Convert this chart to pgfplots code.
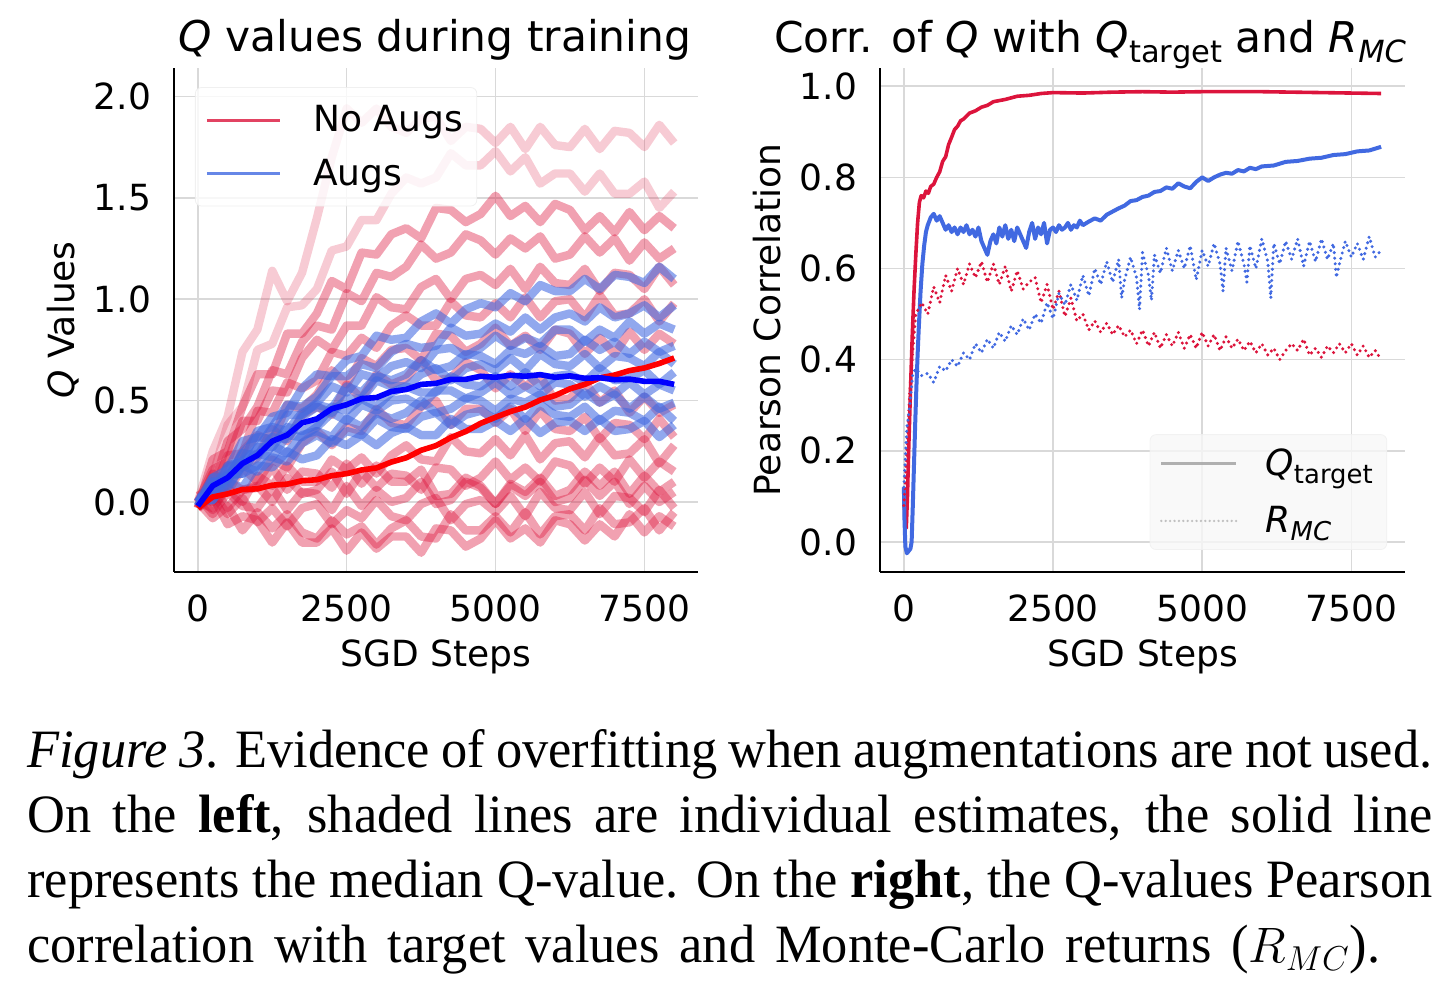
\documentclass[border=0pt]{standalone}
\usepackage{fontspec}
\setmainfont{DejaVu Sans}
\newfontfamily\capfont{Liberation Serif}[FakeStretch=0.97]
\usepackage{graphicx}
\usepackage{pgfplots}
\usepackage{pgfplotstable}
\pgfplotsset{compat=1.18}
\definecolor{crimson}{RGB}{220,20,60}
\definecolor{royalblue}{RGB}{65,105,225}
\newcommand\tickfont{\fontsize{18}{21}\selectfont}
\newcommand\titlefont{\fontsize{21.2}{25}\selectfont}
\newcommand\sub[1]{\raisebox{-0.22em}{\scalebox{0.72}{#1}}}

\pgfplotstableread{
x r1 r2 r3 r4 r5 r6 r7 r8 r9 r10 r11 r12 r13 r14 r15 r16 b1 b2 b3 b4 b5 b6 b7 b8 b9 b10 rm bm
0 0 0 -0.03 0.03 0 0 -0.03 0.03 0 0 -0.03 0.03 0 0 -0.03 0.03 0 0 -0.02 0.02 0 0 -0.02 0.02 0 0 -0.03 -0.02
250 0.25 0.13 0.21 0.07 0.16 0.05 0.14 0.00 0.09 -0.03 0.07 -0.06 0.04 -0.08 0.03 -0.04 0.12 0.05 0.12 0.03 0.10 0.03 0.10 0.01 0.08 0.01 0.025 0.08
500 0.42 0.38 0.25 0.30 0.20 0.23 0.10 0.18 0.05 0.07 -0.03 0.05 -0.06 -0.02 -0.11 0.10 0.16 0.18 0.12 0.17 0.11 0.14 0.08 0.13 0.07 0.10 0.04 0.12
750 0.74 0.47 0.47 0.36 0.40 0.24 0.25 0.17 0.17 0.00 0.06 -0.02 0.02 -0.14 -0.07 0.06 0.30 0.20 0.24 0.20 0.24 0.14 0.18 0.14 0.18 0.07 0.062 0.19
1000 0.85 0.75 0.63 0.47 0.40 0.45 0.33 0.22 0.10 0.13 0.08 -0.03 -0.10 -0.05 -0.09 0.07 0.32 0.35 0.32 0.26 0.23 0.27 0.24 0.18 0.15 0.18 0.065 0.23
1250 1.14 0.78 0.63 0.65 0.55 0.44 0.30 0.36 0.21 0.08 0.00 0.07 -0.03 -0.13 -0.20 0.17 0.42 0.37 0.31 0.37 0.32 0.27 0.22 0.28 0.22 0.17 0.083 0.30
1500 0.99 0.96 0.83 0.63 0.54 0.59 0.48 0.30 0.17 0.18 0.12 -0.04 -0.12 -0.06 -0.10 0.06 0.44 0.48 0.43 0.35 0.31 0.37 0.33 0.24 0.20 0.25 0.088 0.33
1750 1.13 0.97 0.83 0.79 0.71 0.56 0.46 0.43 0.29 0.10 0.04 0.05 -0.03 -0.15 -0.20 0.15 0.56 0.47 0.43 0.44 0.42 0.35 0.32 0.33 0.29 0.21 0.105 0.39
2000 1.40 1.05 0.93 0.87 0.80 0.60 0.53 0.47 0.35 0.10 0.06 0.04 -0.01 -0.18 -0.20 0.14 0.63 0.52 0.49 0.48 0.47 0.38 0.37 0.35 0.33 0.23 0.11 0.41
2250 1.70 1.24 1.09 0.85 0.75 0.74 0.65 0.43 0.28 0.21 0.15 -0.04 -0.11 -0.09 -0.13 0.07 0.62 0.62 0.57 0.46 0.44 0.47 0.44 0.32 0.29 0.31 0.13 0.46
2500 1.94 1.26 1.05 1.03 0.87 0.72 0.58 0.58 0.37 0.16 0.04 0.08 -0.04 -0.16 -0.24 0.19 0.70 0.62 0.54 0.57 0.51 0.45 0.40 0.41 0.35 0.28 0.14 0.48
2750 1.87 1.39 1.23 0.99 0.87 0.81 0.71 0.51 0.35 0.22 0.15 -0.02 -0.08 -0.12 -0.15 0.09 0.72 0.68 0.63 0.54 0.51 0.51 0.48 0.37 0.33 0.33 0.158 0.51
3000 1.94 1.39 1.22 1.13 1.01 0.76 0.67 0.63 0.46 0.14 0.07 0.06 0.01 -0.21 -0.23 0.18 0.82 0.66 0.61 0.62 0.60 0.47 0.45 0.44 0.41 0.28 0.168 0.515
3250 1.85 1.52 1.32 1.11 0.96 0.87 0.75 0.58 0.39 0.23 0.14 0.00 -0.07 -0.13 -0.17 0.10 0.80 0.74 0.67 0.60 0.57 0.54 0.50 0.41 0.37 0.34 0.197 0.545
3500 1.82 1.60 1.35 1.16 0.95 0.92 0.76 0.61 0.38 0.28 0.13 0.02 -0.09 -0.09 -0.17 0.10 0.81 0.78 0.69 0.63 0.57 0.57 0.51 0.44 0.36 0.37 0.218 0.555
3750 1.89 1.57 1.30 1.27 1.06 0.87 0.70 0.70 0.47 0.21 0.06 0.10 -0.01 -0.17 -0.25 0.16 0.89 0.76 0.66 0.70 0.63 0.54 0.47 0.50 0.42 0.33 0.255 0.58
4000 1.90 1.60 1.45 1.20 1.10 0.87 0.83 0.60 0.50 0.20 0.17 -0.01 0.02 -0.18 -0.13 0.03 0.93 0.77 0.75 0.65 0.66 0.54 0.55 0.44 0.44 0.33 0.278 0.585
4250 1.78 1.72 1.44 1.23 1.00 0.99 0.82 0.61 0.38 0.32 0.16 0.01 -0.09 -0.06 -0.14 0.04 0.88 0.86 0.76 0.67 0.60 0.62 0.55 0.46 0.38 0.41 0.318 0.605
4500 1.85 1.66 1.38 1.32 1.10 0.92 0.74 0.69 0.46 0.25 0.08 0.10 -0.01 -0.14 -0.22 0.12 0.95 0.82 0.72 0.73 0.66 0.58 0.51 0.51 0.43 0.36 0.348 0.605
4750 1.84 1.66 1.42 1.29 1.12 0.91 0.78 0.65 0.46 0.24 0.12 0.07 0.01 -0.14 -0.18 0.08 0.98 0.83 0.76 0.72 0.68 0.57 0.54 0.50 0.45 0.36 0.388 0.62
5000 1.77 1.73 1.51 1.22 1.07 0.98 0.86 0.56 0.39 0.31 0.20 -0.01 -0.05 -0.07 -0.09 -0.01 0.96 0.88 0.82 0.68 0.65 0.62 0.59 0.45 0.41 0.40 0.418 0.615
5250 1.85 1.63 1.41 1.30 1.15 0.91 0.77 0.63 0.46 0.23 0.11 0.08 0.03 -0.15 -0.18 0.09 1.03 0.84 0.77 0.75 0.71 0.57 0.53 0.51 0.47 0.35 0.446 0.625
5500 1.74 1.70 1.46 1.25 1.05 1.01 0.82 0.57 0.35 0.33 0.17 0.03 -0.07 -0.05 -0.13 0.05 0.99 0.91 0.81 0.73 0.65 0.64 0.57 0.49 0.41 0.41 0.468 0.62
5750 1.85 1.57 1.38 1.31 1.16 0.91 0.75 0.62 0.45 0.21 0.10 0.10 0.05 -0.16 -0.20 0.12 1.07 0.85 0.78 0.77 0.73 0.57 0.53 0.53 0.48 0.34 0.503 0.628
6000 1.76 1.62 1.47 1.20 1.08 0.99 0.85 0.50 0.36 0.29 0.20 0.00 -0.03 -0.07 -0.09 0.03 1.04 0.91 0.85 0.72 0.68 0.62 0.59 0.47 0.43 0.39 0.525 0.615
6250 1.75 1.62 1.44 1.22 1.07 1.00 0.83 0.51 0.35 0.30 0.18 0.02 -0.04 -0.06 -0.11 0.06 1.04 0.93 0.85 0.73 0.67 0.63 0.58 0.48 0.42 0.40 0.558 0.622
6500 1.84 1.53 1.34 1.31 1.15 0.91 0.73 0.59 0.42 0.22 0.09 0.11 0.05 -0.14 -0.19 0.15 1.10 0.89 0.79 0.80 0.73 0.59 0.52 0.54 0.47 0.35 0.58 0.61
6750 1.74 1.62 1.41 1.23 1.04 1.02 0.81 0.49 0.31 0.32 0.17 0.03 -0.06 -0.03 -0.11 0.08 1.05 0.96 0.85 0.75 0.66 0.66 0.57 0.49 0.40 0.41 0.612 0.613
7000 1.83 1.52 1.33 1.30 1.13 0.92 0.73 0.55 0.39 0.23 0.10 0.10 0.03 -0.11 -0.17 0.15 1.12 0.91 0.81 0.79 0.72 0.60 0.53 0.53 0.45 0.35 0.626 0.603
7250 1.82 1.52 1.43 1.19 1.12 0.93 0.84 0.44 0.38 0.24 0.21 -0.01 0.02 -0.10 -0.06 0.04 1.11 0.93 0.89 0.73 0.71 0.61 0.59 0.46 0.44 0.36 0.648 0.606
7500 1.75 1.58 1.34 1.28 1.05 1.00 0.75 0.52 0.31 0.31 0.12 0.08 -0.05 -0.03 -0.15 0.13 1.08 0.97 0.83 0.79 0.67 0.65 0.53 0.52 0.40 0.40 0.661 0.595
7750 1.86 1.45 1.41 1.20 1.16 0.89 0.83 0.44 0.41 0.19 0.20 0.00 0.06 -0.14 -0.07 0.05 1.16 0.91 0.88 0.74 0.74 0.58 0.58 0.46 0.47 0.32 0.683 0.595
8000 1.77 1.53 1.35 1.25 1.07 0.98 0.78 0.48 0.32 0.28 0.15 0.05 -0.03 -0.05 -0.12 0.10 1.10 0.97 0.85 0.77 0.68 0.64 0.55 0.49 0.40 0.38 0.71 0.58
}\qdata

\pgfplotsset{
  myaxis/.style={
    scale only axis,
    axis lines=left,
    axis line style={-, line width=1.2pt, black},
    major tick length=0pt,
    grid=major,
    major grid style={gray!30, line width=0.8pt},
    xmin=-400, xmax=8400,
    xtick={0,2500,5000,7500},
    scaled x ticks=false,
    /pgf/number format/assume math mode=true,
    tick label style={font=\tickfont},
    xticklabel style={anchor=base, yshift=-25pt, /pgf/number format/1000 sep={}},
    yticklabel style={anchor=east, xshift=-8pt, /pgf/number format/.cd, fixed, fixed zerofill, precision=1},
    xlabel style={font=\tickfont, at={(axis description cs:0.5,0)}, anchor=base, yshift=-47.5pt},
    every axis y label/.style={font=\tickfont, at={(axis description cs:-0.19,0.5)}, rotate=90, anchor=base},
    legend cell align=left,
  },
  shade/.style={forget plot, line width=4.2pt, line join=round},
}

\begin{document}
\begin{tikzpicture}
\path[use as bounding box] (0,0) rectangle (725pt,495pt);

% ---------------- left panel ----------------
\begin{axis}[myaxis,
  at={(87pt,209pt)}, anchor=south west,
  width=262pt, height=252pt,
  ymin=-0.345, ymax=2.14,
  ytick={0,0.5,1,1.5,2},
  xlabel={SGD Steps},
  ylabel={{\itshape Q} Values},
  legend style={at={(axis description cs:0.04,0.962)}, anchor=north west,
    fill=white, fill opacity=0.8, draw=gray!15, draw opacity=0.8, text opacity=1,
    rounded corners=3pt, font=\tickfont, inner xsep=5pt, inner ysep=7pt, row sep=8pt,
    /tikz/every odd column/.append style={column sep=14pt}},
  legend image code/.code={\draw[#1] (0pt,0pt) -- (36.5pt,0pt);},
]
\pgfplotsinvokeforeach{r1,r2}{
  \addplot[shade, crimson, opacity=0.22] table[x=x, y=#1] {\qdata};
}
\pgfplotsinvokeforeach{r3,r4,r5,r6,r7,r8,r9,r10,r11,r12,r13,r14,r15,r16}{
  \addplot[shade, crimson, opacity=0.4] table[x=x, y=#1] {\qdata};
}
\pgfplotsinvokeforeach{b1,b2,b3,b4,b5,b6,b7,b8,b9,b10}{
  \addplot[shade, royalblue, opacity=0.58] table[x=x, y=#1] {\qdata};
}
\addplot[forget plot, color={rgb,255:red,255;green,0;blue,0}, line width=2.8pt, line join=round] table[x=x, y=rm] {\qdata};
\addplot[forget plot, color={rgb,255:red,0;green,0;blue,255}, line width=2.8pt, line join=round] table[x=x, y=bm] {\qdata};
\addlegendimage{crimson, line width=1.5pt}
\addlegendentry{No Augs}
\addlegendimage{royalblue, line width=1.5pt}
\addlegendentry{Augs}
\end{axis}

% ---------------- right panel ----------------
\begin{axis}[myaxis,
  at={(440pt,209pt)}, anchor=south west,
  width=262.5pt, height=252pt,
  ymin=-0.066, ymax=1.04,
  ytick={0,0.2,0.4,0.6,0.8,1.0},
  xlabel={SGD Steps},
  ylabel={Pearson Correlation},
  legend style={at={(axis description cs:0.966,0.0437)}, anchor=south east,
    fill=gray!6, fill opacity=0.8, draw=gray!12, draw opacity=0.8, text opacity=1,
    rounded corners=3pt, font=\tickfont, inner xsep=5pt, inner ysep=5pt, row sep=10pt,
    /tikz/every odd column/.append style={column sep=12pt}},
  legend image code/.code={\draw[#1] (0pt,0pt) -- (37.5pt,0pt);},
]
% Q target, No Augs
\addplot[forget plot, crimson, line width=1.8pt, line join=round] coordinates {
(0,0.11) (20,0.04) (40,0.03) (60,0.10) (80,0.20) (110,0.33) (140,0.45) (170,0.55)
(200,0.63) (230,0.70) (260,0.745) (290,0.76) (330,0.755) (370,0.77) (410,0.765)
(450,0.78) (500,0.785) (550,0.80) (600,0.812) (650,0.835) (700,0.845) (750,0.872)
(800,0.888) (850,0.905) (900,0.912) (950,0.924) (1000,0.928) (1100,0.941) (1200,0.946)
(1300,0.954) (1400,0.958) (1500,0.966) (1700,0.971) (1900,0.978) (2100,0.98)
(2300,0.984) (2500,0.986) (3000,0.985) (3500,0.987) (4000,0.988) (4500,0.987)
(5000,0.988) (5500,0.988) (6000,0.988) (6500,0.987) (7000,0.986) (7500,0.985) (8000,0.984)
};
% Q target, Augs
\addplot[forget plot, royalblue, line width=2.0pt, line join=round] coordinates {
(0,0.12) (10,0.05) (25,-0.01) (50,-0.025) (80,-0.02) (110,-0.015) (130,0.0) (150,0.08)
(170,0.17) (190,0.26) (210,0.34) (230,0.41) (250,0.47) (280,0.55) (310,0.61) (340,0.65)
(370,0.68) (400,0.695) (450,0.712) (500,0.72) (550,0.705) (600,0.715) (650,0.70)
(700,0.685) (750,0.695) (800,0.68) (850,0.69) (900,0.675) (950,0.69) (1000,0.68)
(1050,0.695) (1100,0.675) (1150,0.685) (1200,0.67) (1250,0.69) (1300,0.66) (1350,0.645)
(1400,0.63) (1450,0.66) (1500,0.675) (1550,0.655) (1600,0.69) (1650,0.67) (1700,0.695)
(1750,0.665) (1800,0.685) (1850,0.66) (1900,0.69) (1950,0.675) (2000,0.66) (2050,0.645)
(2100,0.68) (2150,0.70) (2200,0.665) (2250,0.69) (2300,0.675) (2350,0.70) (2400,0.655)
(2450,0.685) (2500,0.69) (2550,0.68) (2600,0.695) (2650,0.685) (2700,0.69) (2750,0.70)
(2800,0.685) (2850,0.695) (2900,0.69) (2950,0.705) (3000,0.695) (3100,0.703) (3200,0.71)
(3300,0.705) (3400,0.718) (3500,0.725) (3600,0.732) (3700,0.738) (3800,0.748) (3900,0.75)
(4000,0.757) (4100,0.76) (4200,0.768) (4300,0.77) (4400,0.778) (4500,0.775) (4600,0.787)
(4700,0.78) (4800,0.776) (4900,0.79) (5000,0.80) (5100,0.792) (5200,0.80) (5300,0.806)
(5400,0.81) (5500,0.808) (5600,0.816) (5700,0.813) (5800,0.821) (5900,0.818) (6000,0.824)
(6200,0.826) (6400,0.834) (6600,0.836) (6800,0.841) (7000,0.843) (7200,0.849) (7400,0.851)
(7600,0.857) (7800,0.859) (8000,0.867)
};
% R_MC, No Augs
\addplot[forget plot, crimson, line width=1.7pt, line cap=round, dash pattern=on 0pt off 2.8pt] coordinates {
(0,0.08) (50,0.20) (100,0.33) (150,0.42) (200,0.50) (300,0.525) (400,0.50) (500,0.56)
(600,0.525) (700,0.585) (800,0.55) (900,0.60) (1000,0.565) (1100,0.61) (1200,0.58)
(1300,0.615) (1400,0.57) (1500,0.61) (1600,0.565) (1700,0.605) (1800,0.55) (1900,0.595)
(2000,0.555) (2100,0.57) (2200,0.58) (2300,0.525) (2400,0.565) (2500,0.51) (2600,0.55)
(2700,0.495) (2800,0.535) (2900,0.485) (3000,0.50) (3100,0.465) (3200,0.485) (3300,0.46)
(3400,0.48) (3500,0.455) (3600,0.475) (3700,0.45) (3800,0.465) (3900,0.435) (4000,0.465)
(4100,0.43) (4200,0.46) (4300,0.425) (4400,0.455) (4500,0.43) (4600,0.46) (4700,0.425)
(4800,0.455) (4900,0.425) (5000,0.46) (5100,0.43) (5200,0.455) (5300,0.42) (5400,0.45)
(5500,0.425) (5600,0.445) (5700,0.42) (5800,0.44) (5900,0.415) (6000,0.435) (6100,0.41)
(6200,0.425) (6300,0.40) (6400,0.42) (6500,0.435) (6600,0.42) (6700,0.445) (6800,0.41)
(6900,0.425) (7000,0.405) (7100,0.43) (7200,0.415) (7300,0.435) (7400,0.415) (7500,0.435)
(7600,0.41) (7700,0.43) (7800,0.405) (7900,0.42) (8000,0.40)
};
% R_MC, Augs
\addplot[forget plot, royalblue, line width=1.7pt, line cap=round, dash pattern=on 0pt off 2.8pt] coordinates {
(0,0.12) (50,0.25) (100,0.30) (150,0.37) (200,0.38) (300,0.365) (400,0.37) (500,0.35)
(600,0.385) (700,0.375) (800,0.40) (900,0.385) (1000,0.415) (1100,0.40) (1200,0.435)
(1300,0.415) (1400,0.445) (1500,0.425) (1600,0.46) (1700,0.44) (1800,0.475) (1900,0.455)
(2000,0.49) (2100,0.465) (2200,0.50) (2300,0.48) (2400,0.525) (2500,0.49) (2600,0.545)
(2700,0.52) (2800,0.565) (2900,0.53) (3000,0.585) (3100,0.54) (3200,0.60) (3300,0.565)
(3400,0.615) (3500,0.57) (3600,0.62) (3650,0.535) (3700,0.575) (3800,0.625) (3900,0.58)
(3950,0.51) (4000,0.635) (4100,0.585) (4150,0.53) (4200,0.63) (4300,0.59) (4400,0.645)
(4500,0.595) (4600,0.64) (4700,0.60) (4800,0.65) (4900,0.575) (5000,0.64) (5100,0.605)
(5200,0.655) (5300,0.61) (5350,0.55) (5400,0.645) (5500,0.595) (5600,0.66) (5700,0.61)
(5750,0.57) (5800,0.65) (5900,0.60) (6000,0.665) (6100,0.615) (6150,0.535) (6200,0.655)
(6300,0.61) (6400,0.66) (6500,0.62) (6600,0.665) (6700,0.605) (6800,0.66) (6900,0.615)
(7000,0.665) (7100,0.62) (7200,0.655) (7250,0.58) (7300,0.61) (7400,0.66) (7500,0.625)
(7600,0.655) (7700,0.62) (7800,0.67) (7900,0.625) (8000,0.64)
};
\addlegendimage{gray!75, line width=1.3pt}
\addlegendentry{{\itshape Q}\sub{target}}
\addlegendimage{gray!60, line width=1.3pt, line cap=round, dash pattern=on 0pt off 2.2pt}
\addlegendentry{{\itshape R}\sub{\itshape MC}}
\end{axis}

% titles
\node[anchor=base, font=\titlefont, inner sep=0pt] at (217.5pt,469pt) {{\itshape Q} values during training};
\node[anchor=base, font=\titlefont, inner sep=0pt] at (545pt,468.5pt) {Corr. of {\itshape Q} with {\itshape Q}\sub{target} and {\itshape R}\sub{\itshape MC}};

% caption
\begin{scope}[every node/.style={anchor=base west, inner sep=0pt, font=\capfont\fontsize{27}{32.5}\selectfont}]
\node at (13.5pt,111pt) {\makebox[702.5pt][s]{\textit{Figure 3}. Evidence of overfitting when augmentations are not used.}};
\node at (13.5pt,78.5pt) {\makebox[702.5pt][s]{On the \textbf{left}, shaded lines are individual estimates, the solid line}};
\node at (13.5pt,46pt) {\makebox[702.5pt][s]{represents the median Q-value. On the \textbf{right}, the Q-values Pearson}};
\node at (13.5pt,13.5pt) {\makebox[676.5pt][s]{correlation with target values and Monte-Carlo returns ($R_{MC}$).}};
\end{scope}
\end{tikzpicture}
\end{document}
